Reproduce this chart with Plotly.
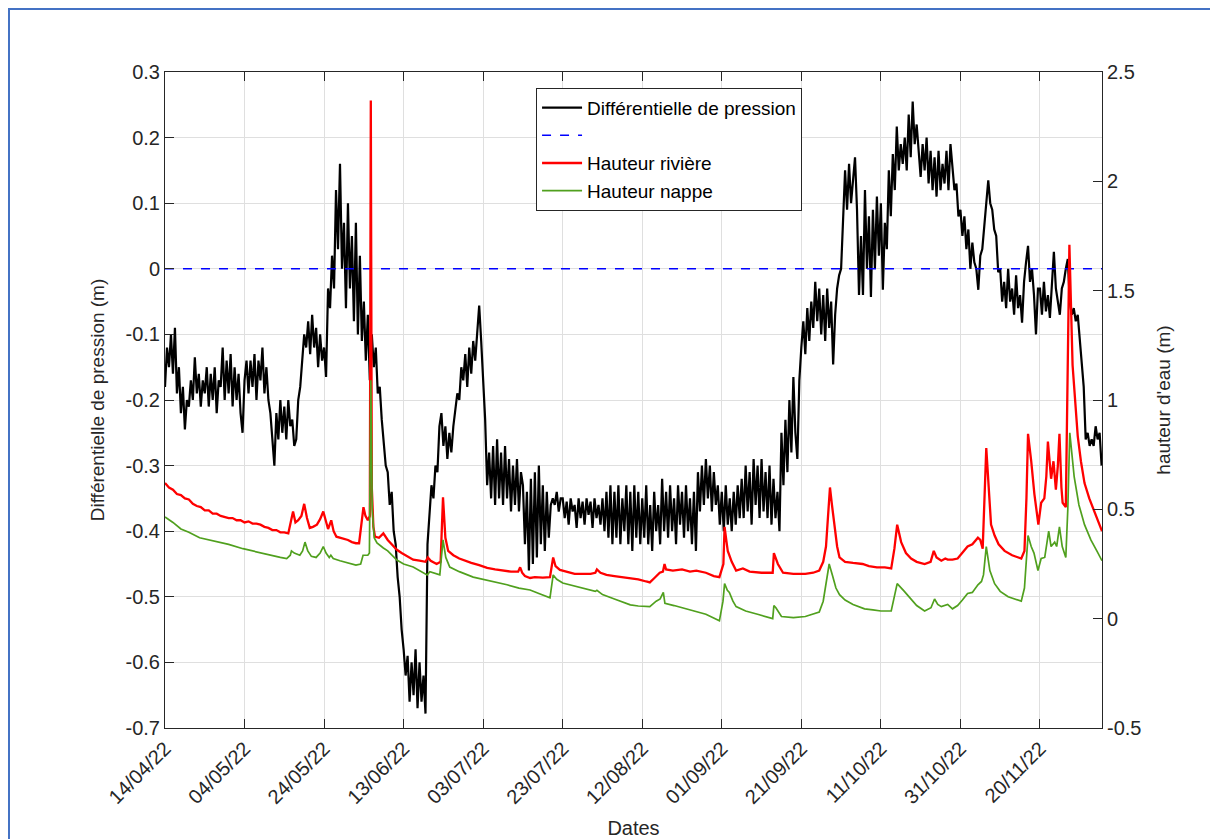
import pandas as pd
import plotly.graph_objects as go

# ---------------- data ----------------
START = "2022-04-14"
END_DAYS = 235.6

# Différentielle de pression (m), one value every 12 h from 14/04/22
diff_pression = [
    -0.18, -0.12, -0.15, -0.10, -0.16, -0.09, -0.19, -0.15, -0.22, -0.18, -0.245, -0.20, -0.21, -0.17, -0.20, -0.135, -0.19, -0.16, -0.21, -0.17,
    -0.19, -0.15, -0.21, -0.16, -0.20, -0.15, -0.22, -0.17, -0.18, -0.12, -0.20, -0.14, -0.19, -0.13, -0.21, -0.15, -0.20, -0.16, -0.22, -0.25,
    -0.17, -0.14, -0.19, -0.14, -0.18, -0.13, -0.20, -0.14, -0.17, -0.12, -0.19, -0.15, -0.20, -0.22, -0.26, -0.30, -0.22, -0.26, -0.20, -0.25,
    -0.21, -0.26, -0.20, -0.24, -0.23, -0.27, -0.26, -0.20, -0.18, -0.14, -0.10, -0.12, -0.08, -0.13, -0.07, -0.12, -0.09, -0.15, -0.10, -0.14,
    -0.12, -0.165, -0.03, -0.06, 0.02, -0.03, 0.12, 0.03, 0.16, 0.00, 0.07, -0.06, 0.10, -0.03, 0.05, -0.08, 0.07, -0.10, 0.02, -0.11,
    -0.05, -0.14, -0.07, -0.17, -0.10, -0.15, -0.12, -0.19, -0.18, -0.23, -0.26, -0.30, -0.31, -0.36, -0.34, -0.40, -0.42, -0.47, -0.50, -0.55,
    -0.58, -0.62, -0.59, -0.66, -0.60, -0.65, -0.58, -0.67, -0.60, -0.66, -0.62, -0.678, -0.42, -0.37, -0.33, -0.35, -0.30, -0.31, -0.24, -0.22,
    -0.27, -0.24, -0.29, -0.25, -0.28, -0.24, -0.21, -0.19, -0.20, -0.15, -0.17, -0.13, -0.18, -0.12, -0.16, -0.11, -0.14, -0.09, -0.056, -0.11,
    -0.17, -0.23, -0.33, -0.28, -0.35, -0.27, -0.36, -0.26, -0.35, -0.28, -0.36, -0.27, -0.35, -0.29, -0.37, -0.30, -0.36, -0.29, -0.37, -0.31,
    -0.33, -0.42, -0.34, -0.46, -0.32, -0.45, -0.31, -0.44, -0.30, -0.42, -0.33, -0.43, -0.34, -0.41, -0.36, -0.35, -0.36, -0.34, -0.37, -0.35,
    -0.35, -0.38, -0.355, -0.39, -0.35, -0.37, -0.36, -0.395, -0.35, -0.38, -0.355, -0.39, -0.35, -0.375, -0.355, -0.395, -0.35, -0.38, -0.36, -0.39,
    -0.35, -0.40, -0.34, -0.41, -0.33, -0.42, -0.34, -0.41, -0.33, -0.42, -0.35, -0.40, -0.33, -0.42, -0.34, -0.43, -0.33, -0.41, -0.34, -0.42,
    -0.35, -0.41, -0.33, -0.42, -0.36, -0.43, -0.34, -0.40, -0.36, -0.42, -0.32, -0.40, -0.34, -0.41, -0.33, -0.40, -0.35, -0.42, -0.33, -0.39,
    -0.34, -0.41, -0.33, -0.40, -0.35, -0.42, -0.34, -0.43, -0.31, -0.37, -0.30, -0.36, -0.29, -0.35, -0.30, -0.37, -0.31, -0.36, -0.33, -0.39,
    -0.34, -0.40, -0.33, -0.39, -0.35, -0.40, -0.34, -0.39, -0.33, -0.38, -0.32, -0.38, -0.30, -0.37, -0.31, -0.39, -0.29, -0.36, -0.30, -0.38,
    -0.29, -0.37, -0.31, -0.38, -0.30, -0.39, -0.32, -0.38, -0.34, -0.40, -0.25, -0.33, -0.23, -0.31, -0.20, -0.28, -0.165, -0.25, -0.29, -0.17,
    -0.12, -0.08, -0.13, -0.06, -0.11, -0.05, -0.09, -0.02, -0.08, -0.03, -0.10, -0.04, -0.11, -0.03, -0.09, -0.05, -0.146, -0.07, -0.03, -0.01,
    0.00, 0.08, 0.15, 0.09, 0.16, 0.10, 0.14, 0.17, 0.09, -0.04, 0.05, -0.04, 0.12, 0.00, 0.08, -0.043, 0.09, 0.00, 0.11, 0.02,
    0.10, -0.032, 0.07, 0.03, 0.15, 0.08, 0.175, 0.12, 0.217, 0.15, 0.19, 0.16, 0.20, 0.15, 0.235, 0.17, 0.255, 0.19, 0.22, 0.175,
    0.14, 0.19, 0.15, 0.20, 0.13, 0.18, 0.12, 0.17, 0.11, 0.18, 0.12, 0.16, 0.13, 0.18, 0.12, 0.19, 0.155, 0.12, 0.13, 0.08,
    0.09, 0.05, 0.08, 0.03, 0.06, 0.00, 0.04, 0.01, 0.00, -0.032, 0.02, 0.03, 0.065, 0.10, 0.135, 0.10, 0.09, 0.06, 0.05, -0.005,
    0.00, -0.05, -0.02, -0.06, 0.00, -0.05, -0.03, -0.07, -0.01, -0.06, -0.04, -0.082, -0.02, 0.01, 0.035, -0.02, 0.00, -0.04, -0.10, -0.03,
    -0.03, -0.07, -0.02, -0.065, -0.04, -0.075, -0.02, 0.026, -0.03, -0.05, -0.07, -0.03, -0.02, 0.00, 0.015, -0.05, -0.07, -0.06, -0.08, -0.07,
    -0.11, -0.15, -0.18, -0.26, -0.25, -0.27, -0.26, -0.27, -0.24, -0.26, -0.25, -0.30,
]

# Hauteur rivière (m): (days since 14/04/22, value)
riviere_jours = [
    0, 1, 2, 3, 4, 5, 6, 7, 8, 9, 10, 11, 12, 13, 14, 15, 16, 17, 18, 19,
    20, 21, 22, 23, 24, 25, 26, 27, 28, 29, 30, 31, 31.8, 32.2, 32.8, 33.5, 34.3, 35.0, 35.7, 36.4,
    37.2, 38.2, 39.0, 39.8, 40.4, 41.0, 41.8, 42.4, 43.1, 44, 45, 46, 47, 48, 48.8, 49.4, 49.9, 50.4, 51.0, 51.5,
    51.75, 52.0, 52.4, 52.8, 53.8, 54.9, 56, 57, 58.3, 59.5, 61, 62.4, 64, 65.5, 66.1, 66.8, 68.3, 69.3, 69.9, 70.5,
    71.2, 72.5, 74, 75, 77, 79, 81, 83, 85, 87, 88.8, 89.3, 89.8, 90.5, 91.8, 93, 95, 96.8, 97.6, 98.2,
    99.3, 101, 103, 105, 107, 108.2, 108.6, 109.5, 111, 113, 115, 117, 119, 121, 121.9, 123, 124.4, 125.2, 125.6, 126,
    127.7, 130, 132, 133.6, 136, 138, 139.4, 140.4, 140.7, 141.2, 141.5, 142.5, 143.6, 145.3, 147, 150, 152, 152.8, 153.1, 153.6,
    154.1, 155.4, 158, 161, 163, 164.5, 165.5, 166.2, 166.8, 167.2, 167.7, 168.3, 169, 169.6, 171, 173, 175.4, 177, 179, 181,
    182.6, 183.4, 184.1, 185.1, 186.3, 187.6, 189, 191, 192.5, 193.3, 194, 195.2, 196.2, 196.8, 198, 199.3, 200.5, 201.8, 203, 204.4,
    205, 205.6, 206.5, 207.1, 207.7, 208.6, 209.6, 211.1, 213, 215.3, 216.1, 216.6, 217.0, 217.8, 218.3, 218.6, 219.6, 220.3, 221.1, 221.6,
    222.0, 222.8, 223.4, 224.0, 224.5, 224.9, 225.4, 225.7, 226.5, 227.0, 227.4, 228.2, 228.6, 229.5, 230.3, 231.2, 232.4, 233.7, 234.8, 235.6,
]
riviere_vals = [
    0.62, 0.60, 0.59, 0.57, 0.565, 0.55, 0.545, 0.525, 0.515, 0.51, 0.495, 0.495, 0.48, 0.48, 0.47, 0.465, 0.46, 0.46, 0.45, 0.45,
    0.44, 0.445, 0.435, 0.435, 0.43, 0.42, 0.415, 0.405, 0.405, 0.395, 0.395, 0.39, 0.46, 0.49, 0.44, 0.45, 0.47, 0.525, 0.46, 0.415,
    0.42, 0.43, 0.455, 0.49, 0.45, 0.41, 0.45, 0.40, 0.375, 0.37, 0.365, 0.36, 0.35, 0.345, 0.345, 0.44, 0.51, 0.47, 0.45, 0.47,
    2.37, 0.60, 0.42, 0.375, 0.37, 0.39, 0.36, 0.34, 0.315, 0.30, 0.285, 0.27, 0.265, 0.26, 0.28, 0.265, 0.25, 0.26, 0.555, 0.37,
    0.31, 0.29, 0.275, 0.268, 0.255, 0.245, 0.232, 0.225, 0.22, 0.215, 0.215, 0.235, 0.21, 0.195, 0.186, 0.19, 0.188, 0.19, 0.28, 0.24,
    0.223, 0.215, 0.205, 0.205, 0.205, 0.21, 0.225, 0.21, 0.20, 0.195, 0.19, 0.186, 0.18, 0.17, 0.166, 0.185, 0.21, 0.215, 0.25, 0.225,
    0.22, 0.225, 0.215, 0.22, 0.21, 0.195, 0.19, 0.25, 0.42, 0.35, 0.31, 0.26, 0.22, 0.23, 0.215, 0.21, 0.21, 0.21, 0.30, 0.27,
    0.25, 0.21, 0.205, 0.205, 0.21, 0.22, 0.26, 0.33, 0.50, 0.60, 0.52, 0.43, 0.33, 0.28, 0.26, 0.255, 0.25, 0.24, 0.235, 0.235,
    0.23, 0.32, 0.43, 0.35, 0.30, 0.275, 0.26, 0.25, 0.26, 0.31, 0.28, 0.265, 0.275, 0.27, 0.27, 0.275, 0.30, 0.33, 0.34, 0.37,
    0.36, 0.32, 0.78, 0.58, 0.43, 0.38, 0.34, 0.31, 0.29, 0.275, 0.31, 0.55, 0.845, 0.72, 0.62, 0.57, 0.43, 0.53, 0.55, 0.65,
    0.81, 0.64, 0.72, 0.59, 0.70, 0.845, 0.60, 0.53, 0.51, 1.10, 1.71, 1.16, 1.05, 0.835, 0.72, 0.62, 0.55, 0.49, 0.44, 0.40,
]

# Hauteur nappe (m): (days since 14/04/22, value)
nappe_jours = [
    0, 2, 4, 6, 8.7, 11, 13.7, 16, 19.6, 23, 26.3, 29, 30.6, 31.5, 31.8, 32.5, 33.9, 34.6, 35.2, 35.9,
    36.8, 38, 39, 39.8, 40.5, 41.3, 41.7, 42.3, 44, 46, 48, 49.2, 49.8, 51, 51.4, 51.75, 52.1, 52.6, 53.3, 54.9,
    56, 58.3, 60, 62.4, 64, 65.9, 66.6, 68, 69.1, 69.9, 70.6, 71.6, 74, 77.5, 80, 83.4, 86, 89, 91.8, 94,
    96.8, 97.6, 98.5, 100, 103, 106, 108.2, 108.6, 110, 113, 117, 119, 121.9, 123.5, 124.5, 125.3, 125.7, 128, 131, 133.6,
    136, 139.4, 140.3, 140.7, 141.4, 141.9, 142.8, 143.6, 146, 149, 152.8, 153.1, 153.6, 155, 158, 161, 164.5, 165.5, 166.3, 167,
    167.8, 168.7, 169.6, 171, 173, 175.9, 178, 180, 182.6, 183.3, 184.1, 185.9, 187.5, 189, 191, 192.6, 193.5, 194.3, 195.2, 196.8,
    198, 199.3, 200.5, 201.8, 203, 204.4, 205.3, 205.8, 206.5, 207.4, 208.6, 210, 212, 215.3, 216.1, 217, 217.8, 218.5, 219.5, 220.3,
    221.2, 222.2, 222.8, 223.7, 224.2, 224.9, 225.6, 226.5, 227.0, 227.5, 228.6, 229.8, 231.2, 232.8, 234.3, 235.6,
]
nappe_vals = [
    0.465, 0.44, 0.41, 0.395, 0.37, 0.36, 0.35, 0.34, 0.32, 0.305, 0.29, 0.28, 0.275, 0.29, 0.31, 0.30, 0.29, 0.31, 0.35, 0.31,
    0.285, 0.28, 0.30, 0.33, 0.30, 0.28, 0.29, 0.275, 0.265, 0.255, 0.245, 0.25, 0.29, 0.29, 0.30, 1.09, 0.50, 0.37, 0.346, 0.323,
    0.31, 0.268, 0.25, 0.236, 0.22, 0.20, 0.215, 0.205, 0.20, 0.36, 0.28, 0.236, 0.215, 0.19, 0.18, 0.168, 0.155, 0.14, 0.131, 0.115,
    0.095, 0.20, 0.18, 0.163, 0.15, 0.135, 0.125, 0.13, 0.11, 0.09, 0.063, 0.058, 0.055, 0.08, 0.09, 0.12, 0.07, 0.06, 0.045, 0.035,
    0.02, -0.01, 0.08, 0.16, 0.13, 0.12, 0.08, 0.055, 0.035, 0.02, 0.0, 0.06, 0.05, 0.01, 0.005, 0.01, 0.03, 0.08, 0.17, 0.25,
    0.20, 0.14, 0.11, 0.085, 0.065, 0.045, 0.04, 0.035, 0.035, 0.10, 0.16, 0.125, 0.09, 0.06, 0.035, 0.05, 0.09, 0.065, 0.055, 0.065,
    0.045, 0.06, 0.085, 0.115, 0.12, 0.155, 0.17, 0.20, 0.33, 0.22, 0.16, 0.125, 0.10, 0.08, 0.14, 0.38, 0.33, 0.30, 0.22, 0.275,
    0.28, 0.40, 0.33, 0.35, 0.33, 0.42, 0.33, 0.28, 0.50, 0.85, 0.65, 0.52, 0.43, 0.36, 0.31, 0.265,
]

zero_line = [0, 0]

x_tick_labels = ["14/04/22", "04/05/22", "24/05/22", "13/06/22", "03/07/22", "23/07/22",
                 "12/08/22", "01/09/22", "21/09/22", "11/10/22", "31/10/22", "20/11/22"]
y_left_ticks = [0.3, 0.2, 0.1, 0, -0.1, -0.2, -0.3, -0.4, -0.5, -0.6, -0.7]
y_left_labels = ["0.3", "0.2", "0.1", "0", "-0.1", "-0.2", "-0.3", "-0.4", "-0.5", "-0.6", "-0.7"]
y_right_ticks = [2.5, 2, 1.5, 1, 0.5, 0, -0.5]
y_right_labels = ["2.5", "2", "1.5", "1", "0.5", "0", "-0.5"]

# ---------------- build ----------------
t0 = pd.Timestamp(START)
t_black = pd.date_range(t0, periods=len(diff_pression), freq="12h")
t_riv = t0 + pd.to_timedelta(riviere_jours, unit="D")
t_nap = t0 + pd.to_timedelta(nappe_jours, unit="D")
t_end = t0 + pd.to_timedelta(END_DAYS, unit="D")
x_tick_vals = [pd.to_datetime(d, format="%d/%m/%y") for d in x_tick_labels]

FONT = "Liberation Sans, Arial, Helvetica, sans-serif"
AX = "rgb(38,38,38)"
GRID = "rgb(223,223,223)"

fig = go.Figure()
fig.add_trace(go.Scatter(x=t_black, y=diff_pression, mode="lines", name="Différentielle de pression",
                         line=dict(color="black", width=2.2), yaxis="y"))
fig.add_trace(go.Scatter(x=[t0, t_end], y=zero_line, mode="lines", name=" ",
                         line=dict(color="rgb(0,0,255)", width=1.5, dash="dash"), yaxis="y"))
fig.add_trace(go.Scatter(x=t_riv, y=riviere_vals, mode="lines", name="Hauteur rivière",
                         line=dict(color="rgb(255,0,0)", width=2.3), yaxis="y2"))
fig.add_trace(go.Scatter(x=t_nap, y=nappe_vals, mode="lines", name="Hauteur nappe",
                         line=dict(color="rgb(80,160,30)", width=1.7), yaxis="y2"))

fig.update_layout(
    width=1210, height=831,
    margin=dict(l=157, r=116, t=64, b=111, autoexpand=False),
    paper_bgcolor="white", plot_bgcolor="white",
    font=dict(family=FONT, size=18, color=AX),
    showlegend=True,
    legend=dict(x=0.396, y=0.976, xanchor="left", yanchor="top",
                bgcolor="white", bordercolor=AX, borderwidth=1,
                font=dict(family=FONT, size=19, color="black"),
                tracegroupgap=0, itemwidth=40),
    xaxis=dict(
        type="date", range=[t0, t_end], automargin=False,
        tickvals=x_tick_vals, ticktext=x_tick_labels, tickangle=-45,
        showgrid=True, gridcolor=GRID, gridwidth=1,
        showline=True, linecolor=AX, linewidth=1, mirror="ticks",
        ticks="inside", ticklen=9, tickcolor=AX,
        tickfont=dict(family=FONT, size=20, color=AX),
        title=dict(text="Dates", font=dict(family=FONT, size=20, color=AX), standoff=16),
        zeroline=False,
    ),
    yaxis=dict(
        range=[-0.7, 0.3], tickvals=y_left_ticks, ticktext=y_left_labels, automargin=False,
        showgrid=True, gridcolor=GRID, gridwidth=1,
        showline=True, linecolor=AX, linewidth=1,
        ticks="inside", ticklen=9, tickcolor=AX,
        tickfont=dict(family=FONT, size=20, color=AX),
        title=dict(text="Différentielle de pression (m)", font=dict(family=FONT, size=19, color=AX), standoff=15),
        zeroline=False,
    ),
    yaxis2=dict(
        range=[-0.5, 2.5], tickvals=y_right_ticks, ticktext=y_right_labels, automargin=False,
        overlaying="y", side="right", showgrid=False,
        showline=True, linecolor=AX, linewidth=1,
        ticks="inside", ticklen=9, tickcolor=AX,
        tickfont=dict(family=FONT, size=20, color=AX),
        title=dict(text="hauteur d'eau (m)", font=dict(family=FONT, size=19, color=AX), standoff=16),
        zeroline=False,
    ),
    shapes=[dict(type="rect", xref="paper", yref="paper",
                 x0=-0.1665, x1=1.1185, y0=-0.2, y1=1.096,
                 line=dict(color="rgb(68,114,196)", width=2), fillcolor="rgba(0,0,0,0)", layer="below")],
)

fig.write_html("out.html")
